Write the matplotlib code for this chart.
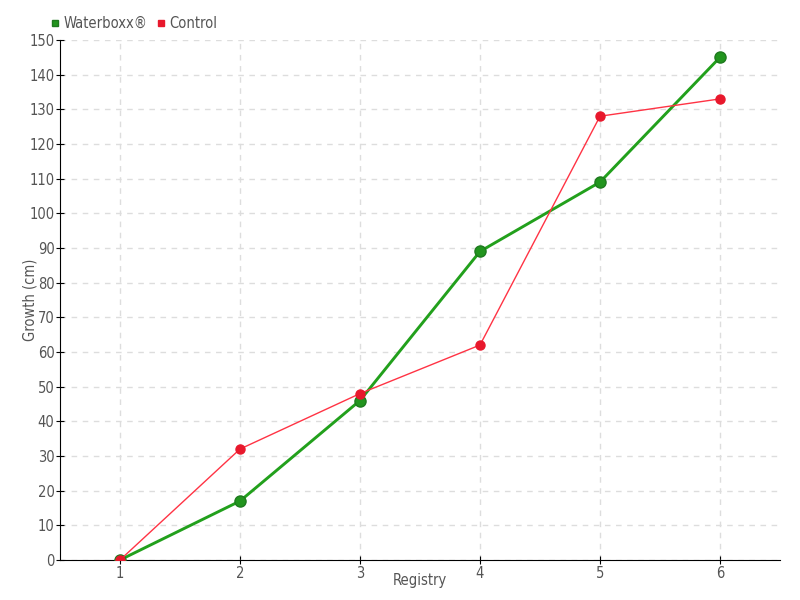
import matplotlib.pyplot as plt

# Data
registry = [1, 2, 3, 4, 5, 6]
waterboxx = [0, 17, 46, 89, 109, 145]
control = [0, 32, 48, 62, 128, 133]

plt.rcParams["font.family"] = ["DejaVu Sans"]
plt.rcParams["font.stretch"] = "condensed"
text_col = "#555555"

fig = plt.figure(figsize=(8, 6), dpi=100)
ax = fig.add_axes([0.075, 0.0667, 0.9, 0.8667])

ax.plot(registry, waterboxx, color="#22a01c", lw=2.1, marker="o", ms=8,
        mfc="#22951e", mec="#1e7a1e", label="Waterboxx®", zorder=3)
ax.plot(registry, control, color="#ff3344", lw=1, marker="o", ms=6.5,
        mfc="#e8182c", mec="#e8182c", label="Control", zorder=4)

ax.set_xlim(0.5, 6.5)
ax.set_ylim(0, 150)
ax.set_xticks(registry)
ax.set_yticks(range(0, 151, 10))
ax.grid(True, color="#dddddd", ls=(0, (4, 4)), lw=1)
ax.set_axisbelow(True)

for s in ["top", "right"]:
    ax.spines[s].set_visible(False)
for s in ["left", "bottom"]:
    ax.spines[s].set_color("black")
ax.tick_params(direction="inout", length=6, colors="black", labelcolor=text_col,
               labelsize=10.5, pad=1)

ax.set_xlabel("Registry", color=text_col, fontsize=10.5)
ax.set_ylabel("Growth (cm)", color=text_col, fontsize=10.5)
ax.xaxis.set_label_coords(0.5, -0.025, transform=ax.transAxes)
ax.xaxis.label.set_va("top")
ax.yaxis.set_label_coords(-0.042, 0.5, transform=ax.transAxes)
ax.yaxis.label.set_va("center")

leg = ax.legend(loc="lower left", bbox_to_anchor=(-0.025, 1.0), ncol=2, frameon=False,
                fontsize=10.5, handlelength=0.6, handletextpad=0.3, columnspacing=0.6,
                borderaxespad=0.2, markerscale=0.6)
for h in leg.legend_handles:
    h.set_linestyle("")
    h.set_marker("s")
for t in leg.get_texts():
    t.set_color(text_col)

fig.savefig("out.png", dpi=100)
